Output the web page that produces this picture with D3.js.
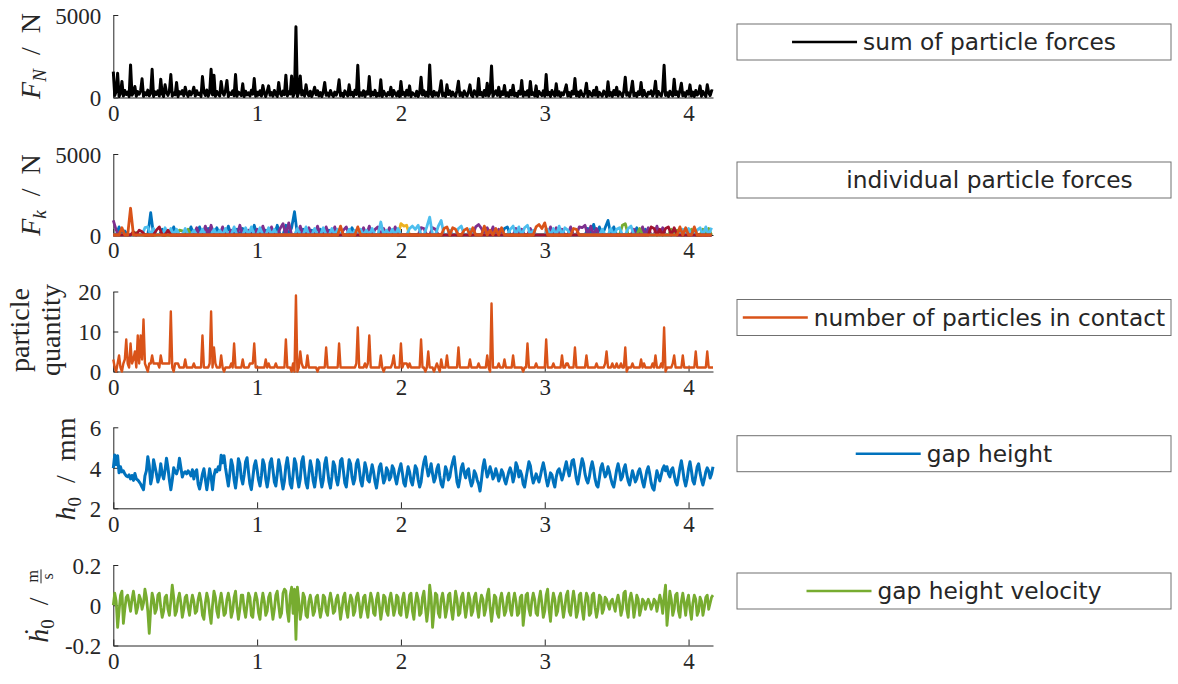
<!DOCTYPE html>
<html>
<head>
<meta charset="utf-8">
<style>
body { margin: 0; background: #fff; }
text { fill: #262626; }
</style>
</head>
<body>
<div id="chart"></div>
<script src="https://cdnjs.cloudflare.com/ajax/libs/d3/7.8.5/d3.min.js"></script>
<script>
// time axis (s)
var tEnd = 4.17;
var xTicks = [0, 1, 2, 3, 4];
var dtCoarse = 0.02;   // individual particle force samples
var dtFine = 0.01;     // all other samples

// sum of particle forces F_N (N), every 0.01 s
var sumForce = [
  1570, 120, 380, 1470, 60, 250, 970, 90, 420, 180,
  330, 50, 1975, 140, 300, 665, 80, 360, 200, 410,
  1130, 70, 290, 150, 450, 100, 260, 1710, 60, 340,
  180, 400, 90, 1110, 220, 60, 766, 310, 130, 380,
  1390, 80, 270, 160, 907, 50, 350, 210, 420, 100,
  625, 240, 70, 380, 150, 300, 625, 90, 410, 180,
  260, 60, 1270, 330, 120, 450, 80, 290, 1710, 150,
  1350, 70, 360, 200, 90, 970, 300, 140, 420, 1030,
  60, 280, 190, 400, 100, 1390, 70, 330, 230, 120,
  827, 60, 380, 160, 290, 90, 440, 200, 1150, 70,
  320, 150, 410, 90, 726, 250, 60, 370, 705, 130,
  300, 80, 430, 190, 60, 907, 260, 110, 390, 170,
  1350, 90, 340, 210, 1310, 70, 280, 4290, 60, 320,
  1310, 150, 400, 80, 766, 240, 100, 380, 60, 290,
  625, 170, 410, 90, 300, 60, 350, 907, 130, 270,
  80, 420, 190, 60, 330, 140, 380, 1070, 100, 260,
  60, 400, 220, 90, 766, 150, 310, 70, 440, 180,
  1955, 80, 290, 130, 410, 60, 350, 200, 1270, 90,
  320, 150, 430, 70, 260, 110, 1070, 60, 380, 190,
  90, 300, 160, 625, 70, 420, 230, 100, 350, 60,
  970, 180, 310, 80, 440, 140, 705, 60, 290, 200,
  100, 380, 60, 260, 1230, 150, 410, 90, 320, 70,
  1975, 200, 60, 370, 140, 290, 80, 430, 1010, 100,
  260, 60, 766, 180, 400, 90, 330, 150, 70, 420,
  990, 110, 280, 60, 390, 200, 90, 350, 766, 130,
  60, 410, 240, 80, 1150, 160, 300, 60, 430, 120,
  867, 90, 310, 1915, 70, 250, 400, 130, 625, 60,
  340, 180, 726, 90, 290, 60, 420, 150, 746, 100,
  260, 60, 380, 200, 1030, 80, 330, 140, 410, 60,
  970, 170, 290, 90, 705, 60, 360, 220, 110, 400,
  80, 1390, 150, 310, 60, 420, 190, 90, 827, 130,
  350, 60, 280, 160, 440, 766, 90, 300, 60, 380,
  210, 1150, 100, 330, 60, 410, 170, 80, 290, 867,
  60, 360, 200, 90, 430, 140, 625, 60, 310, 180,
  80, 390, 250, 60, 950, 120, 300, 70, 420, 160,
  625, 90, 340, 210, 60, 380, 1230, 130, 290, 70,
  410, 990, 100, 260, 60, 350, 180, 907, 80, 430,
  150, 60, 320, 220, 400, 90, 280, 990, 60, 360,
  190, 80, 420, 1955, 120, 300, 60, 380, 200, 90,
  1110, 160, 340, 60, 410, 867, 100, 290, 70, 380,
  210, 766, 90, 330, 60, 420, 150, 260, 705, 80,
  370, 190, 60, 766, 300, 120, 410, 380
];

// individual particle forces F_k (N), every 0.02 s: force value and which particle carries it
var particleForce = [
  900, 300, 500, 450, 250, 0, 1650, 200, 150, 300,
  200, 450, 500, 1380, 400, 300, 500, 350, 450, 300,
  400, 500, 350, 300, 250, 400, 350, 500, 300, 450,
  500, 350, 550, 400, 600, 350, 450, 300, 500, 400,
  550, 300, 500, 350, 600, 400, 450, 300, 500, 600,
  350, 450, 550, 300, 450, 500, 350, 600, 400, 700,
  600, 750, 450, 1440, 400, 550, 350, 500, 450, 300,
  400, 550, 350, 450, 500, 300, 400, 500, 350, 550,
  300, 500, 350, 450, 300, 500, 350, 450, 300, 550,
  400, 350, 500, 800, 400, 300, 450, 350, 500, 400,
  700, 550, 600, 400, 550, 350, 600, 450, 400, 500,
  1100, 450, 350, 550, 900, 400, 500, 300, 450, 350,
  400, 550, 300, 400, 350, 450, 500, 650, 400, 550,
  450, 300, 500, 400, 350, 450, 400, 500, 350, 550,
  400, 500, 350, 450, 600, 400, 300, 500, 650, 400,
  750, 350, 500, 400, 450, 550, 350, 450, 300, 500,
  400, 350, 500, 450, 600, 400, 550, 650, 400, 500,
  350, 450, 900, 400, 500, 350, 450, 600, 700, 400,
  550, 350, 450, 400, 500, 350, 450, 500, 400, 550,
  350, 450, 400, 500, 350, 450, 300, 500, 350, 450,
  400, 350, 500, 300, 450, 350, 500, 400, 450
];
var particleId = [
  3, 3, 0, 1, 0, 1, 1, 6, 4, 6,
  6, 5, 5, 0, 5, 6, 6, 0, 5, 6,
  5, 0, 5, 4, 4, 5, 4, 0, 5, 3,
  0, 5, 3, 0, 3, 5, 0, 5, 3, 5,
  0, 3, 5, 0, 3, 0, 5, 3, 5, 0,
  3, 5, 3, 0, 5, 3, 5, 0, 3, 3,
  0, 3, 0, 0, 5, 3, 0, 5, 3, 0,
  5, 3, 0, 5, 3, 0, 5, 3, 5, 1,
  3, 3, 5, 0, 5, 1, 5, 3, 5, 3,
  5, 3, 3, 5, 3, 5, 3, 5, 3, 5,
  2, 2, 2, 5, 5, 5, 5, 3, 3, 5,
  5, 3, 3, 5, 5, 1, 1, 5, 1, 1,
  5, 5, 1, 1, 5, 1, 3, 3, 3, 1,
  3, 1, 3, 1, 3, 1, 0, 0, 5, 5,
  3, 5, 3, 5, 5, 3, 5, 1, 1, 1,
  1, 5, 3, 5, 3, 5, 3, 5, 5, 3,
  1, 1, 3, 3, 3, 0, 3, 0, 3, 0,
  5, 0, 0, 5, 0, 5, 5, 4, 4, 5,
  5, 3, 0, 4, 3, 0, 3, 6, 6, 3,
  6, 3, 6, 6, 4, 6, 4, 1, 5, 1,
  5, 4, 1, 5, 5, 4, 5, 4, 5
];
var particleColors = ['#0072BD', '#D95319', '#EDB120', '#7E2F8E', '#77AC30', '#4DBEEE', '#A2142F'];
var particleOrder = [0, 2, 3, 4, 5, 6, 1];

// number of particles in contact, every 0.01 s
var contactCount = [
  3, 1, 0, 2, 4, 1, 0, 2, 3, 8,
  2, 1, 7, 2, 3, 5, 1, 9, 2, 9,
  3, 13, 2, 1, 0, 2, 2, 4, 2, 2,
  2, 2, 1, 4, 2, 2, 2, 2, 2, 2,
  15, 1, 0, 2, 2, 2, 1, 1, 1, 1,
  3, 1, 1, 1, 1, 1, 2, 1, 1, 1,
  1, 1, 9, 1, 1, 1, 1, 2, 15, 1,
  6, 2, 1, 1, 1, 4, 1, 0, 1, 1,
  1, 1, 2, 1, 7, 1, 1, 1, 1, 1,
  3, 1, 1, 1, 1, 2, 2, 2, 7, 1,
  1, 1, 1, 1, 1, 1, 3, 1, 2, 1,
  1, 1, 1, 2, 1, 1, 1, 1, 1, 1,
  8, 1, 1, 1, 0, 2, 0, 19, 0, 1,
  5, 2, 1, 1, 1, 4, 1, 1, 1, 1,
  1, 1, 0, 1, 1, 1, 1, 1, 6, 1,
  1, 1, 1, 1, 1, 1, 1, 7, 1, 1,
  1, 1, 1, 1, 1, 1, 1, 1, 1, 2,
  11, 1, 1, 1, 1, 2, 1, 2, 9, 1,
  1, 1, 1, 1, 1, 1, 4, 1, 0, 1,
  1, 1, 1, 1, 2, 4, 1, 1, 1, 1,
  7, 1, 2, 2, 2, 1, 2, 1, 1, 1,
  1, 1, 1, 1, 8, 1, 1, 0, 1, 5,
  1, 1, 1, 0, 1, 2, 1, 0, 3, 1,
  1, 1, 4, 1, 1, 1, 1, 1, 1, 1,
  6, 1, 1, 1, 1, 1, 1, 1, 3, 1,
  1, 1, 1, 1, 2, 1, 1, 1, 1, 1,
  4, 1, 0, 17, 1, 1, 1, 1, 2, 1,
  1, 1, 3, 1, 1, 1, 1, 1, 4, 1,
  1, 1, 1, 1, 1, 0, 1, 1, 7, 1,
  1, 1, 1, 1, 2, 1, 1, 1, 1, 1,
  1, 8, 1, 1, 1, 1, 2, 1, 1, 1,
  1, 1, 4, 1, 1, 2, 2, 1, 1, 1,
  1, 6, 1, 1, 1, 1, 1, 1, 1, 4,
  1, 1, 1, 1, 1, 1, 2, 1, 1, 1,
  1, 1, 2, 5, 1, 1, 1, 2, 1, 1,
  2, 1, 1, 2, 1, 1, 6, 0, 1, 1,
  1, 2, 1, 1, 1, 1, 1, 3, 1, 2,
  1, 1, 1, 1, 1, 2, 1, 4, 1, 1,
  1, 2, 1, 11, 0, 1, 1, 1, 1, 2,
  4, 1, 1, 1, 1, 1, 4, 1, 1, 1,
  1, 1, 1, 1, 1, 5, 1, 1, 1, 1,
  1, 1, 1, 5, 1, 1, 1, 1
];

// gap height h_0 (mm), every 0.01 s
var gapHeight = [
  3.98, 4.63, 4.15, 4.60, 3.75, 4.05, 3.80, 3.85, 3.70, 3.60,
  3.56, 3.65, 3.45, 3.62, 3.38, 3.72, 3.45, 3.40, 3.30, 3.20,
  3.05, 2.92, 3.60, 3.85, 4.55, 4.10, 3.20, 3.55, 4.40, 4.05,
  3.70, 3.30, 3.55, 4.20, 3.70, 3.45, 3.90, 4.47, 4.00, 3.40,
  2.92, 3.40, 4.00, 3.80, 3.70, 3.95, 4.47, 4.00, 3.55, 3.75,
  3.80, 3.70, 3.85, 3.75, 3.60, 3.90, 3.45, 3.80, 3.90, 3.20,
  2.95, 3.30, 3.70, 3.95, 3.45, 2.92, 3.40, 3.95, 3.55, 2.92,
  3.60, 3.90, 3.80, 4.05, 3.90, 4.62, 4.25, 4.60, 4.00, 3.55,
  3.10, 3.70, 4.40, 4.10, 3.40, 3.00, 3.60, 4.45, 4.20, 3.50,
  3.20, 3.65, 4.30, 4.50, 3.80, 3.20, 2.92, 3.50, 4.10, 4.35,
  3.90, 3.40, 3.10, 3.60, 4.40, 4.15, 3.45, 3.05, 3.50, 4.25,
  4.45, 3.90, 3.30, 3.10, 3.70, 4.40, 4.05, 3.40, 2.95, 3.35,
  4.10, 4.50, 3.95, 3.20, 3.00, 3.65, 4.45, 4.20, 3.50, 3.05,
  3.45, 4.30, 4.55, 3.85, 3.25, 3.00, 3.70, 4.35, 4.00, 3.35,
  3.05, 3.60, 4.40, 4.25, 3.50, 3.05, 3.40, 4.20, 4.50, 3.90,
  3.30, 3.00, 3.55, 4.30, 4.10, 3.45, 3.15, 3.60, 4.35, 4.45,
  3.85, 3.25, 3.05, 3.70, 4.40, 4.20, 3.55, 3.20, 3.45, 4.20,
  4.40, 3.95, 3.35, 3.10, 3.65, 4.25, 3.95, 3.40, 3.30, 3.75,
  4.15, 3.80, 3.30, 3.00, 3.50, 4.05, 4.20, 3.70, 3.25, 3.45,
  4.00, 3.85, 3.40, 3.55, 4.10, 3.95, 3.50, 3.20, 3.60, 3.95,
  4.20, 3.75, 3.25, 3.10, 3.60, 4.05, 3.80, 3.35, 3.15, 3.60,
  4.10, 3.95, 3.40, 3.05, 3.30, 3.90, 4.30, 4.55, 4.00, 3.60,
  3.85, 4.20, 3.70, 3.30, 3.50, 3.95, 4.15, 3.60, 3.20, 3.05,
  3.50, 4.05, 3.85, 3.40, 3.55, 4.00, 4.30, 4.55, 3.95, 3.30,
  3.05, 3.45, 4.00, 4.20, 3.75, 3.50, 3.85, 3.95, 3.40, 3.10,
  3.30, 3.85, 3.70, 3.40, 3.20, 2.85, 3.40, 4.05, 4.40, 3.95,
  3.55, 3.75, 4.05, 3.80, 3.45, 3.60, 3.95, 3.70, 3.35, 3.55,
  3.90, 3.75, 3.40, 3.20, 3.50, 3.80, 4.00, 3.75, 3.30, 3.60,
  4.25, 4.05, 3.55, 3.85, 3.65, 3.20, 3.05, 3.50, 3.90, 4.30,
  4.10, 3.60, 3.25, 3.45, 3.70, 3.50, 3.30, 3.60, 3.95, 4.25,
  3.90, 3.45, 3.10, 3.40, 3.75, 3.65, 3.30, 3.05, 3.55, 3.85,
  3.95, 3.70, 3.40, 3.65, 4.00, 4.30, 3.90, 3.60, 3.95, 4.35,
  4.40, 3.95, 3.45, 3.20, 3.60, 4.05, 4.45, 4.20, 3.70, 3.40,
  3.25, 3.55, 4.00, 4.30, 3.95, 3.45, 3.15, 3.05, 3.50, 4.00,
  4.20, 3.85, 3.55, 3.70, 4.05, 3.80, 3.45, 3.20, 3.05, 3.45,
  3.90, 4.20, 3.85, 3.40, 3.55, 3.95, 4.15, 3.70, 3.35, 3.15,
  3.50, 3.85, 3.60, 3.30, 3.45, 3.80, 3.95, 3.65, 3.30, 3.05,
  3.45, 3.85, 4.05, 3.70, 3.25, 3.00, 2.90, 3.40, 3.85, 3.60,
  3.35, 3.65, 3.95, 4.10, 3.85, 4.05, 3.70, 3.55, 3.90, 4.00,
  3.65, 3.30, 3.15, 3.55, 4.00, 4.35, 3.90, 3.40, 3.10, 3.45,
  3.95, 4.30, 3.85, 3.35, 3.20, 3.60, 4.05, 4.20, 3.75, 3.40,
  3.15, 3.45, 3.80, 4.00, 3.85, 3.50, 3.70, 4.05
];

// gap height velocity (m/s), every 0.01 s
var gapVelocity = [
  0.00, 0.06, 0.02, -0.11, -0.03, 0.05, 0.07, -0.09, -0.02, 0.04,
  0.05, 0.01, -0.03, 0.03, 0.07, 0.02, -0.04, -0.01, 0.05, 0.03,
  -0.02, 0.01, 0.08, 0.04, -0.03, -0.14, -0.02, 0.06, 0.03, -0.04,
  -0.02, 0.05, 0.06, -0.01, -0.06, -0.03, 0.04, 0.05, -0.02, -0.05,
  0.02, 0.10, 0.04, -0.05, -0.03, 0.03, 0.06, 0.01, -0.06, -0.02,
  0.04, 0.05, -0.01, -0.05, 0.01, 0.05, 0.02, -0.04, -0.03, 0.03,
  0.06, 0.02, -0.05, -0.07, 0.01, 0.06, 0.03, -0.04, -0.09, 0.00,
  0.07, 0.04, -0.03, -0.06, 0.02, 0.06, 0.01, -0.05, -0.04, 0.03,
  0.06, 0.02, -0.06, -0.03, 0.04, 0.07, -0.01, -0.07, -0.02, 0.05,
  0.05, -0.02, -0.06, 0.00, 0.06, 0.04, -0.05, -0.06, 0.02, 0.06,
  0.03, -0.04, -0.07, 0.01, 0.06, 0.02, -0.05, -0.03, 0.04, 0.06,
  -0.01, -0.07, -0.02, 0.05, 0.07, 0.00, -0.06, -0.04, 0.06, 0.08,
  0.07, -0.03, -0.08, 0.05, 0.09, -0.04, 0.08, -0.17, 0.09, 0.02,
  -0.07, -0.02, 0.06, 0.04, -0.05, -0.06, 0.02, 0.05, 0.01, -0.05,
  -0.03, 0.04, 0.05, -0.01, -0.06, -0.02, 0.05, 0.04, -0.03, -0.05,
  0.02, 0.06, 0.02, -0.04, -0.03, 0.03, 0.05, 0.00, -0.07, -0.02,
  0.04, 0.06, -0.02, -0.06, 0.01, 0.05, 0.03, -0.05, -0.03, 0.04,
  0.06, 0.01, -0.06, -0.02, 0.04, 0.05, -0.02, -0.06, 0.01, 0.06,
  0.03, -0.04, -0.05, 0.03, 0.06, 0.00, -0.07, -0.02, 0.05, 0.04,
  -0.03, -0.05, 0.03, 0.06, 0.01, -0.05, -0.02, 0.05, 0.04, -0.04,
  -0.05, 0.03, 0.06, 0.00, -0.06, -0.02, 0.05, 0.06, -0.03, -0.07,
  0.01, 0.06, 0.03, -0.05, -0.04, 0.04, 0.07, -0.01, -0.08, -0.02,
  0.10, 0.04, -0.11, -0.03, 0.06, 0.05, -0.04, -0.06, 0.03, 0.06,
  0.01, -0.06, -0.02, 0.05, 0.06, -0.02, -0.07, 0.00, 0.07, 0.03,
  -0.05, -0.04, 0.04, 0.06, 0.00, -0.06, -0.01, 0.06, 0.03, -0.05,
  -0.03, 0.04, 0.06, -0.01, -0.06, 0.01, 0.05, 0.03, -0.05, -0.02,
  0.05, 0.08, -0.01, -0.08, -0.02, 0.05, 0.04, -0.04, -0.06, 0.03,
  0.06, 0.01, -0.05, -0.03, 0.04, 0.06, -0.02, -0.05, 0.02, 0.06,
  0.02, -0.05, -0.04, 0.04, 0.05, -0.10, -0.03, 0.05, 0.06, -0.02,
  -0.05, 0.02, 0.06, 0.03, -0.04, -0.05, 0.03, 0.07, 0.01, -0.06,
  -0.03, 0.05, 0.08, -0.02, -0.08, 0.01, 0.06, 0.03, -0.05, -0.03,
  0.04, 0.06, 0.00, -0.06, -0.01, 0.05, 0.07, -0.03, -0.05, 0.02,
  0.07, 0.02, -0.06, -0.03, 0.05, 0.06, -0.02, -0.07, 0.01, 0.06,
  0.04, -0.05, -0.04, 0.05, 0.06, -0.01, -0.06, -0.02, 0.05, 0.04,
  -0.04, -0.02, 0.04, 0.03, 0.00, -0.02, 0.02, 0.03, 0.00, -0.03,
  0.02, 0.05, 0.01, -0.05, -0.02, 0.06, 0.07, -0.02, -0.06, 0.03,
  0.06, 0.02, -0.06, -0.01, 0.05, 0.03, -0.05, -0.02, 0.03, 0.02,
  -0.02, 0.01, 0.03, 0.01, -0.02, 0.00, 0.03, 0.02, -0.03, 0.01,
  0.05, 0.02, -0.04, 0.04, 0.10, -0.10, -0.02, 0.07, 0.03, -0.05,
  -0.02, 0.05, 0.06, -0.03, -0.06, 0.02, 0.06, 0.01, -0.05, 0.02,
  0.05, -0.02, -0.07, 0.01, 0.05, 0.03, -0.05, -0.03, 0.04, 0.02,
  -0.05, -0.01, 0.04, 0.05, -0.02, 0.01, 0.04, 0.05
];

var legendLabels = ['sum of particle forces', 'individual particle forces',
  'number of particles in contact', 'gap height', 'gap height velocity'];
var legendColors = ['#000000', 'none', '#D95319', '#0072BD', '#77AC30'];

var width = 1178, height = 684;
var axisColor = '#262626';
var tickFont = 'Liberation Serif, DejaVu Serif, serif';

var svg = d3.select('#chart').append('svg')
  .attr('width', width)
  .attr('height', height)
  .style('display', 'block');

var x = d3.scaleLinear().domain([0, tEnd]).range([113.3, 713]);

var panels = [
  {top: 15, bottom: 97.5, domain: [0, 5000], ticks: [0, 5000]},
  {top: 154, bottom: 235, domain: [0, 5000], ticks: [0, 5000]},
  {top: 291.5, bottom: 371.5, domain: [0, 20], ticks: [0, 10, 20]},
  {top: 427.3, bottom: 508.3, domain: [2, 6], ticks: [2, 4, 6]},
  {top: 565, bottom: 645.5, domain: [-0.2, 0.2], ticks: [-0.2, 0, 0.2]}
];

function fmt(d) { return d === 0 ? '0' : String(d); }

function styleAxis(g) {
  g.attr('font-family', tickFont).attr('font-size', 23);
  g.select('.domain').attr('stroke', axisColor).attr('stroke-width', 1);
  g.selectAll('.tick line').attr('stroke', axisColor).attr('stroke-width', 1);
  g.selectAll('.tick text').attr('fill', axisColor);
}

panels.forEach(function(p) {
  p.y = d3.scaleLinear().domain(p.domain).range([p.bottom, p.top]);
  var g = svg.append('g');
  g.append('g')
    .attr('transform', 'translate(0,' + p.bottom + ')')
    .call(d3.axisBottom(x).tickValues(xTicks).tickFormat(fmt).tickSizeInner(-6).tickSizeOuter(0).tickPadding(7))
    .call(styleAxis);
  g.append('g')
    .attr('transform', 'translate(' + x(0) + ',0)')
    .call(d3.axisLeft(p.y).tickValues(p.ticks).tickFormat(fmt).tickSizeInner(-5).tickSizeOuter(0).tickPadding(12))
    .call(styleAxis)
    .selectAll('.tick text').attr('dy', '0.36em');
  p.g = g;
});

function drawLine(p, values, dt, color, w) {
  var line = d3.line()
    .x(function(d, i) { return x(i * dt); })
    .y(function(d) { return p.y(d); });
  p.g.append('path')
    .datum(values)
    .attr('d', line)
    .attr('fill', 'none')
    .attr('stroke', color)
    .attr('stroke-width', w)
    .attr('stroke-linejoin', 'round');
}

drawLine(panels[0], sumForce, dtFine, '#000000', 3);

particleOrder.forEach(function(k) {
  var vals = particleForce.map(function(v, i) { return particleId[i] === k ? v : 0; });
  drawLine(panels[1], vals, dtCoarse, particleColors[k], 2.8);
});

drawLine(panels[2], contactCount, dtFine, '#D95319', 2.4);
drawLine(panels[3], gapHeight, dtFine, '#0072BD', 3);
drawLine(panels[4], gapVelocity, dtFine, '#77AC30', 2.8);

// y labels (LaTeX style), rotated
var labelFont = 'Liberation Serif, DejaVu Serif, serif';
var sp = '\u2002';
function rotLabel(cx, cy) {
  return svg.append('g').attr('transform', 'translate(' + cx + ',' + cy + ') rotate(-90)')
    .attr('font-family', labelFont).attr('font-size', 28).attr('fill', axisColor);
}

function subLabel(cx, cy, main, sub, subItalic, rest) {
  var t = rotLabel(cx, cy).append('text').attr('text-anchor', 'middle');
  t.append('tspan').attr('font-style', 'italic').text(main);
  t.append('tspan').attr('font-style', subItalic ? 'italic' : 'normal')
    .attr('font-size', 19).attr('dy', 6).text(sub);
  t.append('tspan').attr('dy', -6).text(sp + '/' + sp + rest);
}

subLabel(40, 56, 'F', 'N', true, 'N');
subLabel(40, 195, 'F', 'k', true, 'N');

var q = rotLabel(0, 330);
q.append('text').attr('text-anchor', 'middle').attr('x', 0).attr('y', 29).text('particle');
q.append('text').attr('text-anchor', 'middle').attr('x', 0).attr('y', 60).text('quantity');

subLabel(75, 469, 'h', '0', false, 'mm');

// h-dot over m/s
var v = rotLabel(48, 606);
var vt = v.append('text');
vt.append('tspan').attr('font-style', 'italic').text('\u1E23');
vt.append('tspan').attr('font-size', 19).attr('dy', 6).text('0');
vt.append('tspan').attr('dy', -6).text(sp + '/' + sp);
var mainLen = vt.node().getComputedTextLength();
var fracW = 14;
var startX = -(mainLen + fracW) / 2;
vt.attr('x', startX);
var fx = startX + mainLen + fracW / 2;
v.append('text').attr('x', fx).attr('y', -10).attr('text-anchor', 'middle').attr('font-size', 16).text('m');
v.append('line').attr('x1', fx - 7).attr('x2', fx + 7).attr('y1', -7).attr('y2', -7)
  .attr('stroke', axisColor).attr('stroke-width', 1);
v.append('text').attr('x', fx).attr('y', 5).attr('text-anchor', 'middle').attr('font-size', 16).text('s');

// legends, one per panel
var legendTop = [24, 162, 299.5, 435.7, 573];
var boxX = 737, boxW = 434, boxH = 36, lineLen = 65, gap = 6;
legendLabels.forEach(function(label, i) {
  var g = svg.append('g').attr('transform', 'translate(' + boxX + ',' + legendTop[i] + ')');
  g.append('rect').attr('width', boxW).attr('height', boxH)
    .attr('fill', '#fff').attr('stroke', '#707070').attr('stroke-width', 1);
  var txt = g.append('text')
    .attr('font-family', 'DejaVu Sans, sans-serif').attr('font-size', 23.3)
    .attr('fill', '#000').attr('y', boxH / 2 + 8).text(label);
  var tw = txt.node().getComputedTextLength();
  var x0 = (boxW - (lineLen + gap + tw)) / 2;
  txt.attr('x', x0 + lineLen + gap);
  g.append('line').attr('x1', x0).attr('x2', x0 + lineLen)
    .attr('y1', boxH / 2).attr('y2', boxH / 2)
    .attr('stroke', legendColors[i]).attr('stroke-width', 2.4);
});
</script>
</body>
</html>
